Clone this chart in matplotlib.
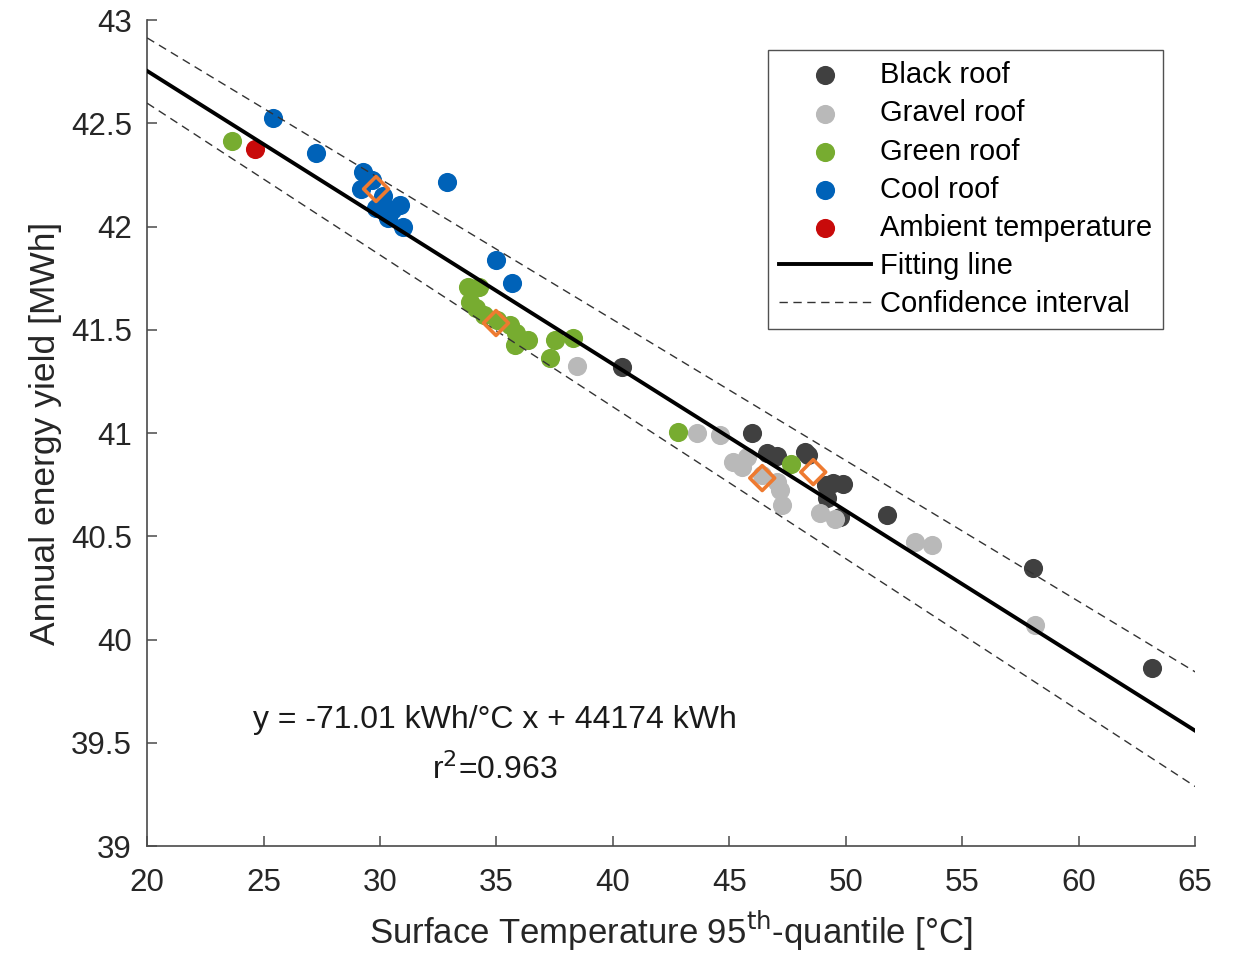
import matplotlib
matplotlib.use("Agg")
import matplotlib.pyplot as plt
import numpy as np

plt.rcParams['font.family'] = ['Liberation Sans', 'DejaVu Sans']

# ---- data ----
black_x = [40.40, 45.98, 46.62, 47.05, 48.25, 48.38, 49.45, 49.88, 49.20, 49.76, 49.15, 51.77, 58.04, 63.15]
black_y = [41.320, 41.000, 40.903, 40.889, 40.908, 40.893, 40.758, 40.753, 40.685, 40.593, 40.748, 40.603, 40.346, 39.862]

gravel_x = [38.46, 43.62, 44.60, 45.16, 45.55, 45.76, 46.41, 47.05, 47.18, 47.27, 48.90, 49.54, 52.98, 53.71, 58.13]
gravel_y = [41.324, 41.000, 40.990, 40.860, 40.835, 40.884, 40.797, 40.763, 40.724, 40.651, 40.613, 40.584, 40.472, 40.458, 40.070]

green_x = [23.65, 33.78, 34.25, 33.87, 34.13, 34.47, 35.03, 35.59, 35.84, 36.36, 35.80, 37.52, 38.29, 37.30, 42.80, 47.65]
green_y = [42.414, 41.707, 41.707, 41.634, 41.605, 41.571, 41.547, 41.523, 41.484, 41.450, 41.426, 41.450, 41.460, 41.363, 41.005, 40.850]

cool_x = [25.41, 27.26, 32.88, 34.98, 35.67, 29.27, 29.19, 29.66, 30.13, 29.83, 30.35, 30.86, 30.99, 30.52]
cool_y = [42.525, 42.356, 42.215, 41.838, 41.726, 42.264, 42.182, 42.225, 42.148, 42.090, 42.041, 42.104, 41.998, 42.080]

ambient_x = [24.64]
ambient_y = [42.375]

mean_x = [29.83, 34.98, 46.41, 48.60]
mean_y = [42.182, 41.533, 40.782, 40.811]

slope = -71.01 / 1000.0   # MWh per °C
intercept = 44174 / 1000.0  # MWh
ci_x = [20, 65]
ci_upper_offset = [0.160, 0.285]
ci_lower_offset = [-0.156, -0.270]

x_ticks = [20, 25, 30, 35, 40, 45, 50, 55, 60, 65]
y_ticks = [39, 39.5, 40, 40.5, 41, 41.5, 42, 42.5, 43]
y_ticklabels = ['39', '39.5', '40', '40.5', '41', '41.5', '42', '42.5', '43']

# ---- figure ----
fig = plt.figure(figsize=(12.36, 9.56), dpi=100)
ax = fig.add_axes([0.119, 0.115, 0.848, 0.864])

ms = 190
ax.scatter(black_x, black_y, s=ms, color='#404040', label='Black roof', zorder=2, linewidths=0)
ax.scatter(gravel_x, gravel_y, s=ms, color='#b9b9b9', label='Gravel roof', zorder=2, linewidths=0)
ax.scatter(green_x, green_y, s=ms, color='#77ac30', label='Green roof', zorder=2, linewidths=0)
ax.scatter(cool_x, cool_y, s=ms, color='#0062b8', label='Cool roof', zorder=2, linewidths=0)
ax.scatter(ambient_x, ambient_y, s=ms, color='#c80a0a', label='Ambient temperature', zorder=2, linewidths=0)

xl = np.array(ci_x, dtype=float)
fit = slope * xl + intercept
ax.plot(xl, fit, color='black', lw=2.8, label='Fitting line', zorder=3)
ax.plot(xl, fit + np.array(ci_upper_offset), color='#333333', lw=1.0, ls=(0, (6, 4)),
        label='Confidence interval', zorder=3)
ax.plot(xl, fit + np.array(ci_lower_offset), color='#333333', lw=1.0, ls=(0, (6, 4)), zorder=3)

ax.scatter(mean_x, mean_y, s=160, marker='D', facecolors='none', edgecolors='#ee7a30',
           linewidths=2.6, zorder=4)

ax.set_xlim(20, 65)
ax.set_ylim(39, 43)
ax.set_xticks(x_ticks)
ax.set_yticks(y_ticks)
ax.set_yticklabels(y_ticklabels)
for s in ['top', 'right']:
    ax.spines[s].set_visible(False)
for s in ['left', 'bottom']:
    ax.spines[s].set_color('#4a4a4a')
    ax.spines[s].set_linewidth(1.2)
ax.tick_params(direction='in', length=7, width=1.1, labelsize=22.5, color='#4a4a4a',
               labelcolor='#262626', pad=11)
ax.tick_params(axis='x', pad=16)

ax.set_xlabel('Surface Temperature 95$^{\\mathrm{th}}$-quantile [°C]', fontsize=25, color='#262626', labelpad=8)
ax.set_ylabel('Annual energy yield [MWh]', fontsize=25.5, color='#262626', labelpad=6)

ax.text(34.94, 39.61, 'y = -71.01 kWh/°C x + 44174 kWh', fontsize=23, ha='center', va='center', color='#1a1a1a')
ax.text(34.94, 39.37, 'r$^{2}$=0.963', fontsize=23, ha='center', va='center', color='#1a1a1a')

leg = ax.legend(loc='upper right', bbox_to_anchor=(0.9695, 0.9637), fontsize=21, frameon=True,
                fancybox=False, edgecolor='#262626', handlelength=3.15, handletextpad=0.3,
                labelspacing=0.35, borderpad=0.38, borderaxespad=0)
leg.get_frame().set_linewidth(1.0)

fig.savefig('out.png', dpi=100)
